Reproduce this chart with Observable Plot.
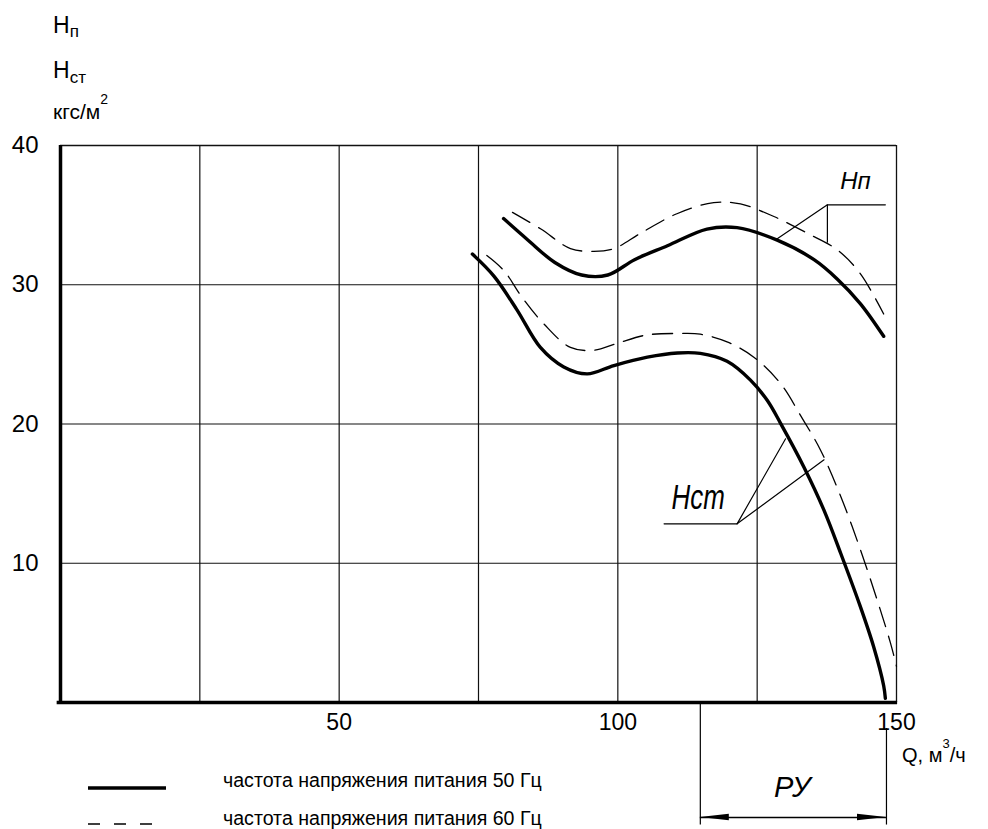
<!DOCTYPE html>
<html><head><meta charset="utf-8">
<script src="https://cdn.jsdelivr.net/npm/d3@7"></script>
<script src="https://cdn.jsdelivr.net/npm/@observablehq/plot@0.6"></script>
<style>
html,body{margin:0;padding:0;background:#fff;overflow:hidden}
#wrap{position:relative;width:988px;height:829px;font-family:"Liberation Sans",Arial,sans-serif}
#overlay{position:absolute;left:0;top:0;pointer-events:none}
</style></head><body><div id="wrap"></div>
<script>
// ---- data (Q in m3/h, H in kgf/m2) ----
const hn50Q = [79.5, 83.9, 88.7, 93.5, 98.2, 103, 108.9, 116, 121.4, 128.6, 135.2, 139.4, 143.5, 147.7];
const hn50H = [34.75, 33.2, 31.6, 30.7, 30.7, 31.8, 32.8, 34.0, 34.1, 33.2, 31.8, 30.4, 28.65, 26.3];
const hn60Q = [81.1, 86.2, 91.5, 95.7, 99.3, 104.1, 110.6, 117.2, 122, 128, 134, 139.4, 143.5, 147.7];
const hn60H = [35.2, 34.0, 32.6, 32.4, 32.6, 33.7, 35.1, 35.9, 35.8, 34.9, 33.7, 32.5, 30.8, 27.9];
const hst50Q = [73.9, 77.8, 81.9, 86.1, 90.3, 94.5, 99.3, 105.3, 110.7, 114.8, 119.6, 123.8, 126.8, 129.2, 133.4, 137, 140, 143.5, 145.9, 147.7, 148];
const hst50H = [32.2, 30.6, 28.2, 25.5, 24.1, 23.6, 24.2, 24.8, 25.1, 25.07, 24.5, 23.15, 21.7, 20.05, 16.9, 13.8, 10.7, 6.9, 4.0, 1.2, 0.3];
const hst60Q = [76.5, 79.6, 82.8, 86.7, 91.5, 95.7, 99.9, 105.3, 111.3, 114.8, 119.6, 124.4, 129.2, 132.8, 136.4, 140, 143.5, 146.5, 148.9, 150];
const hst60H = [32.1, 31.0, 29.1, 27.2, 25.5, 25.3, 25.8, 26.4, 26.5, 26.45, 25.9, 24.8, 22.9, 20.6, 18.1, 14.8, 11.0, 7.4, 4.3, 2.6];

const xTicks = [50, 100, 150];
const yTicks = [10, 20, 30, 40];
const xGrid = [25, 50, 75, 100, 125];
const yGrid = [10, 20, 30];

// callouts (data coordinates)
const hnLabel = {q: 142.65, h: 37.4, text: "Нп"};
const hnLeaderQ = [128.6, 137.6, 148.0];
const hnLeaderH = [33.3, 35.74, 35.74];
const hnTickQ = [137.6, 137.6];
const hnTickH = [35.74, 33.06];
const hstLabel = {q: 114.4, h: 14.7, text: "Нст"};
const hstLeaderQ = [130.1, 121.4, 108.3];
const hstLeaderH = [18.94, 12.83, 12.83];
const hstTickQ = [121.4, 137.0];
const hstTickH = [12.83, 17.43];
// operating range РУ
const ruFrom = 114.8, ruTo = 148.2;
const ruLevel = -8.26, ruBottom = -8.8, ruTopRight = -1.87;
const ruLabel = {q: 131.3, h: -6.1, text: "РУ"};

const legendLabels = ["частота напряжения питания 50 Гц", "частота напряжения питания 60 Гц"];

const pts = (Q, H) => Q.map((q, i) => ({q, h: H[i]}));

const arrowLen = 5.2, arrowHalf = 0.24;
const arrows = [
  [{q: ruFrom, a: ruLevel, b: ruLevel}, {q: ruFrom + arrowLen, a: ruLevel - arrowHalf, b: ruLevel + arrowHalf}],
  [{q: ruTo, a: ruLevel, b: ruLevel}, {q: ruTo - arrowLen, a: ruLevel - arrowHalf, b: ruLevel + arrowHalf}]
];

const chart = Plot.plot({
  width: 988,
  height: 829,
  marginTop: 145,
  marginBottom: 127,
  marginLeft: 60,
  marginRight: 92,
  style: {fontFamily: "'Liberation Sans', Arial, sans-serif", background: "white", overflow: "visible", color: "black"},
  x: {domain: [0, 150]},
  y: {domain: [0, 40]},
  marks: [
    Plot.ruleX(xGrid, {stroke: "#111", strokeWidth: 1.2}),
    Plot.ruleY(yGrid, {stroke: "#111", strokeWidth: 1.2}),
    Plot.ruleY([40], {stroke: "#111", strokeWidth: 1.3}),
    Plot.ruleX([150], {stroke: "#111", strokeWidth: 1.3}),
    Plot.ruleX([0], {stroke: "black", strokeWidth: 3.5}),
    Plot.ruleY([0], {stroke: "black", strokeWidth: 3.5, x1: -0.6, x2: 150.2}),
    Plot.axisY({ticks: yTicks, tickSize: 0, tickPadding: 22, fontSize: 24, label: null}),
    Plot.axisX({ticks: xTicks, tickSize: 0, tickPadding: 11, fontSize: 23, label: null}),
    // curves
    Plot.line(pts(hn60Q, hn60H), {x: "q", y: "h", curve: "catmull-rom", stroke: "black", strokeWidth: 1.3, strokeDasharray: "20,10"}),
    Plot.line(pts(hst60Q, hst60H), {x: "q", y: "h", curve: "catmull-rom", stroke: "black", strokeWidth: 1.3, strokeDasharray: "20,10"}),
    Plot.line(pts(hn50Q, hn50H), {x: "q", y: "h", curve: "catmull-rom", stroke: "black", strokeWidth: 3.4}),
    Plot.line(pts(hst50Q, hst50H), {x: "q", y: "h", curve: "catmull-rom", stroke: "black", strokeWidth: 3.4}),
    // callouts
    Plot.line(pts(hnLeaderQ, hnLeaderH), {x: "q", y: "h", stroke: "black", strokeWidth: 1.2}),
    Plot.line(pts(hnTickQ, hnTickH), {x: "q", y: "h", stroke: "black", strokeWidth: 1.2}),
    Plot.line(pts(hstLeaderQ, hstLeaderH), {x: "q", y: "h", stroke: "black", strokeWidth: 1.2}),
    Plot.line(pts(hstTickQ, hstTickH), {x: "q", y: "h", stroke: "black", strokeWidth: 1.2}),
    Plot.text([hnLabel], {x: "q", y: "h", text: "text", fontSize: 24, fontStyle: "italic"}),
    Plot.text([hstLabel], {x: "q", y: "h", text: "text", fontSize: 36, fontStyle: "italic"}),
    // РУ range
    Plot.ruleX([ruFrom], {y1: 0, y2: ruBottom, stroke: "black", strokeWidth: 1.2}),
    Plot.ruleX([ruTo], {y1: ruTopRight, y2: ruBottom, stroke: "black", strokeWidth: 1.2}),
    Plot.ruleY([ruLevel], {x1: ruFrom, x2: ruTo, stroke: "black", strokeWidth: 1.4}),
    ...arrows.map(a => Plot.areaY(a, {x: "q", y1: "a", y2: "b", fill: "black"})),
    Plot.text([ruLabel], {x: "q", y: "h", text: "text", fontSize: 29, fontStyle: "italic"})
  ]
});

const wrap = document.getElementById("wrap");
wrap.appendChild(chart);
// condense the Нст callout label horizontally (narrow drafting font)
d3.select(chart).selectAll("text").filter(function() { return this.textContent === hstLabel.text; }).each(function() {
  const el = d3.select(this);
  const tr = el.attr("transform");
  if (tr) {
    el.attr("transform", tr + " scale(0.72,1)");
  } else {
    const x = +el.attr("x") || 0, y = +el.attr("y") || 0;
    el.attr("x", null).attr("y", null).attr("transform", `translate(${x},${y}) scale(0.72,1)`);
  }
});

// overlay: axis titles and legend
const ov = d3.select(wrap).append("svg").attr("id", "overlay")
  .attr("width", 988).attr("height", 829)
  .style("font-family", "'Liberation Sans', Arial, sans-serif");

function labelWithScript(x, y, main, script, size, scriptSize, scriptDy) {
  const t = ov.append("text").attr("x", x).attr("y", y).attr("font-size", size).attr("fill", "black");
  t.append("tspan").text(main);
  t.append("tspan").attr("dy", scriptDy).attr("font-size", scriptSize).text(script);
  return t;
}
labelWithScript(53, 33, "H", "п", 23, 17, 4);
labelWithScript(53, 78, "H", "ст", 23, 17, 5);
const unit = ov.append("text").attr("x", 53).attr("y", 119).attr("font-size", 21).attr("fill", "black");
unit.append("tspan").text("кгс/м");
unit.append("tspan").attr("dy", -15).attr("font-size", 14).text("2");

const ql = ov.append("text").attr("x", 902).attr("y", 762).attr("font-size", 20).attr("fill", "black");
ql.append("tspan").text("Q, м");
ql.append("tspan").attr("dy", -14).attr("font-size", 13).text("3");
ql.append("tspan").attr("dy", 14).text("/ч");

ov.append("line").attr("x1", 88).attr("x2", 166).attr("y1", 788).attr("y2", 788).attr("stroke", "black").attr("stroke-width", 3.4);
ov.append("line").attr("x1", 88).attr("x2", 160).attr("y1", 824).attr("y2", 824).attr("stroke", "black").attr("stroke-width", 1.4).attr("stroke-dasharray", "12,14");
legendLabels.forEach((s, i) => {
  ov.append("text").attr("x", 223).attr("y", i === 0 ? 787 : 825).attr("font-size", 19.6).attr("fill", "black").text(s);
});
</script></body></html>
